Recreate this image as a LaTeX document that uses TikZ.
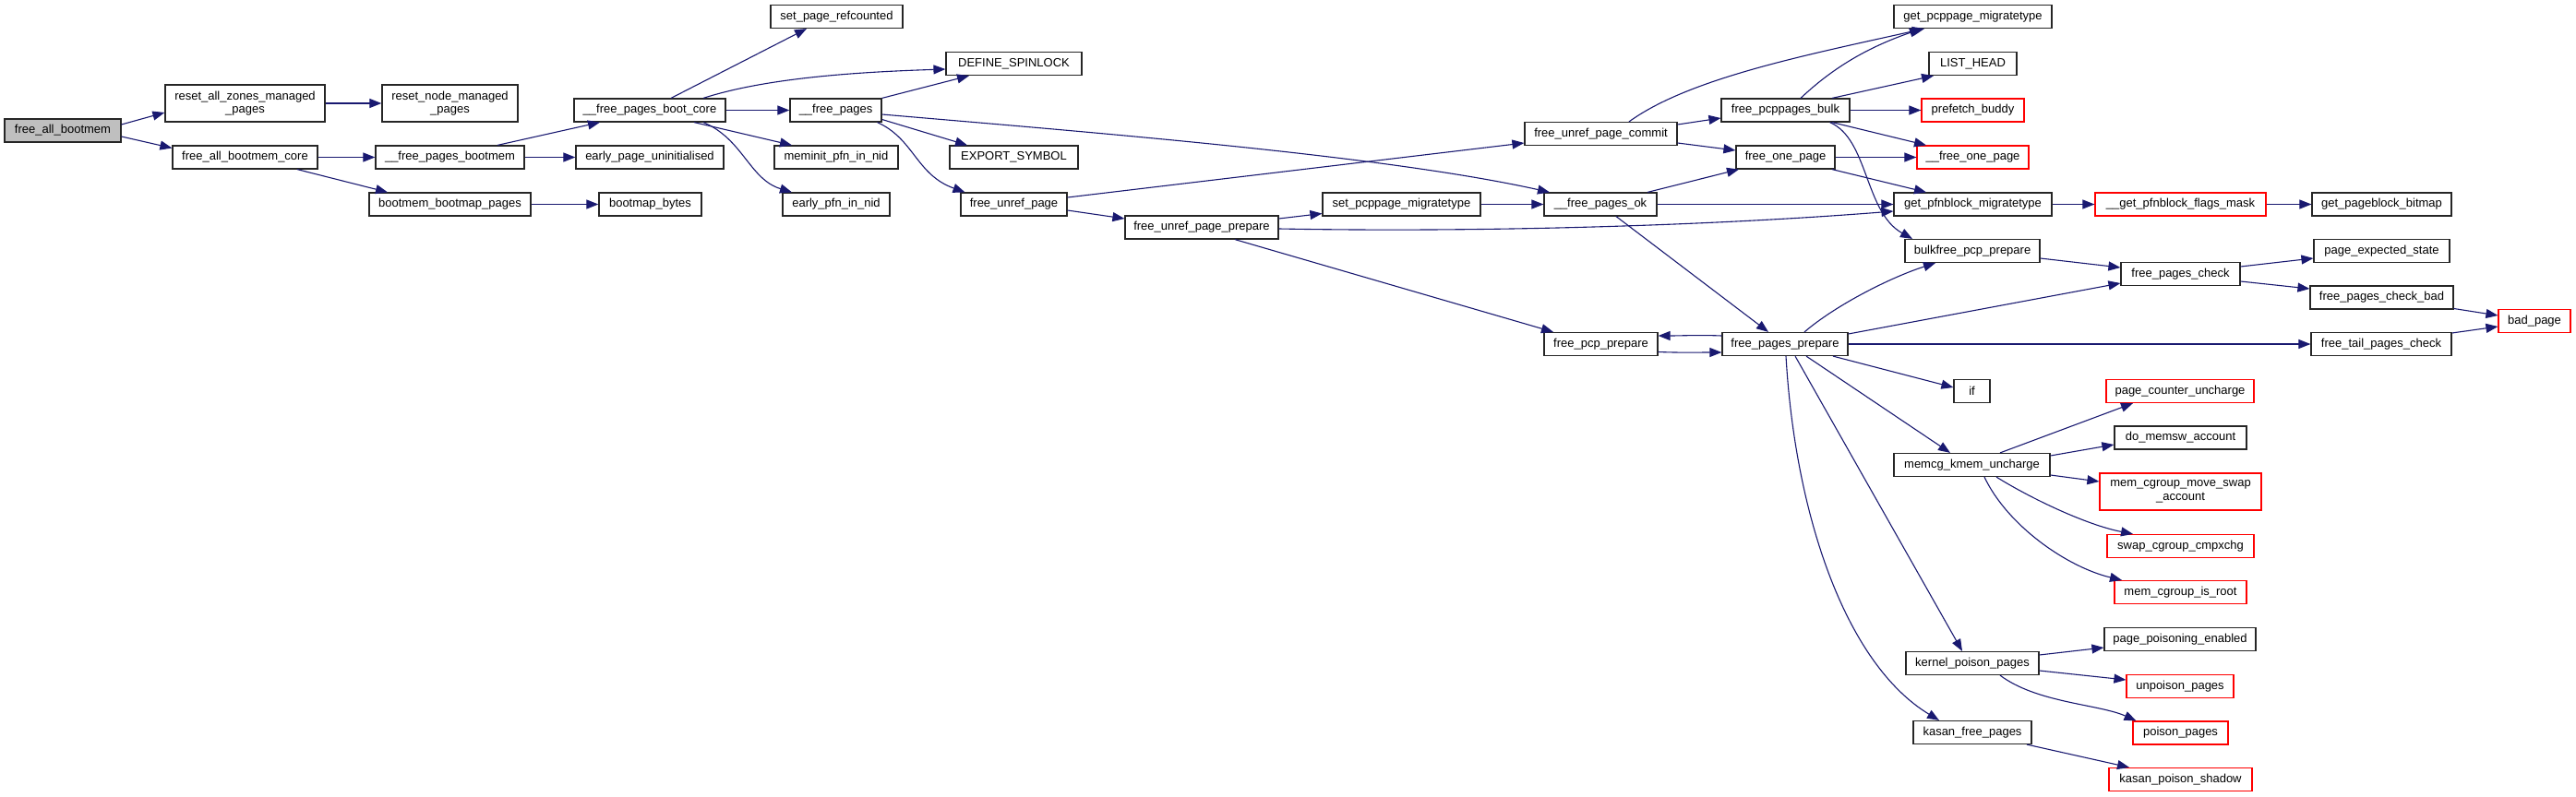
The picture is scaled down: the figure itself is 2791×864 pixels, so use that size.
\documentclass[tikz,border=0pt]{standalone}
\usepackage{fontspec}
\setmainfont{Liberation Sans}
\usetikzlibrary{arrows.meta,calc}
\definecolor{edgeblue}{HTML}{191970}
\definecolor{rootgray}{HTML}{BFBFBF}
\newcommand\nodefont{\fontsize{13}{14.5}\selectfont}
\tikzset{
  box/.style={draw=black!85, line width=1.2pt, fill=white, inner sep=0pt, minimum height=25pt, font=\nodefont, align=center},
  redbox/.style={box, draw=red},
  rootbox/.style={box, fill=rootgray},
  tall/.style={minimum height=40pt},
  edge/.style={draw=edgeblue, line width=1.1pt, -{Triangle[length=13pt,width=10pt]}}
}
\begin{document}
\begin{tikzpicture}[x=1pt,y=-1pt]
\useasboundingbox (0,0) rectangle (2791,864);
% nodes
\node[rootbox, minimum width=126pt] (n1) at (68,141.5) {free\_all\_bootmem};
\node[box, tall, minimum width=173pt] (n2) at (265.5,112) {reset\_all\_zones\_managed\\\_pages};
\node[box, tall, minimum width=147pt] (n3) at (487.5,112) {reset\_node\_managed\\\_pages};
\node[box, minimum width=157pt] (n4) at (265.5,170.5) {free\_all\_bootmem\_core};
\node[box, minimum width=161pt] (n5) at (487.5,170.5) {\_\_free\_pages\_bootmem};
\node[box, minimum width=160pt] (n6) at (704,170.5) {early\_page\_uninitialised};
\node[box, minimum width=175pt] (n7) at (487.5,221.5) {bootmem\_bootmap\_pages};
\node[box, minimum width=111pt] (n8) at (704.5,221.5) {bootmap\_bytes};
\node[box, minimum width=164pt] (n9) at (704,119.5) {\_\_free\_pages\_boot\_core};
\node[box, minimum width=143pt] (n10) at (906.5,18) {set\_page\_refcounted};
\node[box, minimum width=99pt] (n11) at (905.5,119.5) {\_\_free\_pages};
\node[box, minimum width=134pt] (n12) at (906,170.5) {meminit\_pfn\_in\_nid};
\node[box, minimum width=116pt] (n13) at (906,221.5) {early\_pfn\_in\_nid};
\node[box, minimum width=147pt] (n14) at (1098.5,69) {DEFINE\_SPINLOCK};
\node[box, minimum width=139pt] (n15) at (1098.5,170.5) {EXPORT\_SYMBOL};
\node[box, minimum width=115pt] (n16) at (1098.5,221.5) {free\_unref\_page};
\node[box, minimum width=166pt] (n17) at (1302,246.5) {free\_unref\_page\_prepare};
\node[box, minimum width=171pt] (n18) at (1518.5,221.5) {set\_pcppage\_migratetype};
\node[box, minimum width=122pt] (n19) at (1734,221.5) {\_\_free\_pages\_ok};
\node[box, minimum width=165pt] (n20) at (1734.5,145) {free\_unref\_page\_commit};
\node[box, minimum width=139pt] (n21) at (1934.5,119.5) {free\_pcppages\_bulk};
\node[box, minimum width=107pt] (n22) at (1934.5,170.5) {free\_one\_page};
\node[box, minimum width=171pt] (n23) at (2137.5,18) {get\_pcppage\_migratetype};
\node[box, minimum width=95pt] (n24) at (2137.5,69) {LIST\_HEAD};
\node[redbox, minimum width=111pt] (n25) at (2137.5,119.5) {prefetch\_buddy};
\node[redbox, minimum width=121pt] (n26) at (2137.5,170.5) {\_\_free\_one\_page};
\node[box, minimum width=171pt] (n27) at (2137.5,221.5) {get\_pfnblock\_migratetype};
\node[redbox, minimum width=185pt] (n28) at (2362.5,221.5) {\_\_get\_pfnblock\_flags\_mask};
\node[box, minimum width=151pt] (n29) at (2580.5,221.5) {get\_pageblock\_bitmap};
\node[box, minimum width=146pt] (n30) at (2137,272) {bulkfree\_pcp\_prepare};
\node[box, minimum width=147pt] (n31) at (2580.5,272) {page\_expected\_state};
\node[box, minimum width=129pt] (n32) at (2362.5,297) {free\_pages\_check};
\node[box, minimum width=155pt] (n33) at (2580.5,322.5) {free\_pages\_check\_bad};
\node[redbox, minimum width=78pt] (n34) at (2746,348) {bad\_page};
\node[box, minimum width=152pt] (n35) at (2580,373) {free\_tail\_pages\_check};
\node[box, minimum width=123pt] (n36) at (1734.5,373) {free\_pcp\_prepare};
\node[box, minimum width=136pt] (n37) at (1934,373) {free\_pages\_prepare};
\node[box, minimum width=39pt] (n38) at (2136.5,424) {if};
\node[redbox, minimum width=160pt] (n39) at (2362,424) {page\_counter\_uncharge};
\node[box, minimum width=143pt] (n40) at (2362.5,474.5) {do\_memsw\_account};
\node[box, minimum width=169pt] (n41) at (2136.5,504) {memcg\_kmem\_uncharge};
\node[redbox, tall, minimum width=175pt] (n42) at (2362.5,533) {mem\_cgroup\_move\_swap\\\_account};
\node[redbox, minimum width=159pt] (n43) at (2362.5,592) {swap\_cgroup\_cmpxchg};
\node[redbox, minimum width=143pt] (n44) at (2362.5,642) {mem\_cgroup\_is\_root};
\node[box, minimum width=164pt] (n45) at (2362,693) {page\_poisoning\_enabled};
\node[box, minimum width=144pt] (n46) at (2137,719) {kernel\_poison\_pages};
\node[redbox, minimum width=116pt] (n47) at (2362,744) {unpoison\_pages};
\node[redbox, minimum width=103pt] (n48) at (2362.5,794.5) {poison\_pages};
\node[box, minimum width=128pt] (n49) at (2137,794) {kasan\_free\_pages};
\node[redbox, minimum width=155pt] (n50) at (2362.5,845) {kasan\_poison\_shadow};
% edges
\draw[edge] ($(n1.east)+(0,-6.5)$) -- ($(n2.west)+(0,10)$);
\draw[edge] ($(n1.east)+(0,6.5)$) -- ($(n4.west)+(0,-10)$);
\draw[edge] (n2.east) -- (n3.west);
\draw[edge] (n4.east) -- (n5.west);
\draw[edge] ($(n4.south)+(56.5,0)$) -- ($(n7.north)+(-67.5,0)$);
\draw[edge] ($(n5.north)+(51.5,0)$) -- ($(n9.south)+(-54,0)$);
\draw[edge] (n5.east) -- (n6.west);
\draw[edge] (n7.east) -- (n8.west);
\draw[edge] ($(n9.north)+(23,0)$) -- ($(n10.south)+(-32.5,0)$);
\draw[edge] ($(n9.north)+(58,0)$) .. controls +(68,-22) and +(-95,3) .. ($(n14.west)+(0,6)$);
\draw[edge] (n9.east) -- (n11.west);
\draw[edge] ($(n9.south)+(48,0)$) -- ($(n12.north)+(-48,0)$);
\draw[edge] ($(n9.south)+(58,0)$) .. controls +(43,18) and +(-46,-14) .. ($(n13.north)+(-48,0)$);
\draw[edge] (n11.north east) -- ($(n14.south)+(-48.5,0)$);
\draw[edge] ($(n11.east)+(0,10)$) -- ($(n15.north)+(-50.5,0)$);
\draw[edge] ($(n11.south)+(45,0)$) .. controls +(40,18) and +(-53,-19) .. ($(n16.north)+(-53,0)$);
\draw[edge] ($(n11.east)+(0,4.5)$) .. controls +(245,21) and +(-175,-39) .. ($(n19.north)+(-55,0)$);
\draw[edge] ($(n16.east)+(0,-7.5)$) -- ($(n20.west)+(0,10)$);
\draw[edge] ($(n16.east)+(0,6.5)$) -- ($(n17.west)+(0,-9.5)$);
\draw[edge] ($(n17.east)+(0,-9.5)$) -- ($(n18.west)+(0,10)$);
\draw[edge] ($(n17.east)+(0,1.5)$) .. controls +(215,4) and +(-202,16) .. ($(n27.west)+(0,7.5)$);
\draw[edge] ($(n17.south)+(36,0)$) -- ($(n36.north)+(-51.5,0)$);
\draw[edge] (n18.east) -- (n19.west);
\draw[edge] ($(n19.north)+(51,0)$) -- ($(n22.south)+(-50.5,0)$);
\draw[edge] (n19.east) -- (n27.west);
\draw[edge] ($(n19.south)+(17,0)$) -- ($(n37.north)+(-18,0)$);
\draw[edge] ($(n20.north)+(30.5,0)$) .. controls +(65,-47) and +(-130,29) .. ($(n23.south)+(-52.5,0)$);
\draw[edge] ($(n20.east)+(0,-10)$) -- ($(n21.west)+(0,8.5)$);
\draw[edge] ($(n20.east)+(0,10)$) -- ($(n22.west)+(0,-7.5)$);
\draw[edge] ($(n21.north)+(16.5,0)$) .. controls +(39,-37) and +(-52,18) .. ($(n23.south)+(-55.5,0)$);
\draw[edge] ($(n21.north)+(50.5,0)$) -- ($(n24.south)+(-42.5,0)$);
\draw[edge] (n21.east) -- (n25.west);
\draw[edge] ($(n21.south)+(50.5,0)$) -- ($(n26.north)+(-50.5,0)$);
\draw[edge] ($(n21.south)+(48,0)$) .. controls +(42,18) and +(-52,-29) .. ($(n30.north)+(-65,0)$);
\draw[edge] (n22.east) -- (n26.west);
\draw[edge] ($(n22.south)+(50.5,0)$) -- ($(n27.north)+(-50.5,0)$);
\draw[edge] (n27.east) -- (n28.west);
\draw[edge] (n28.east) -- (n29.west);
\draw[edge] ($(n30.east)+(0,8)$) -- ($(n32.west)+(0,-7)$);
\draw[edge] ($(n32.east)+(0,-8)$) -- ($(n31.west)+(0,8)$);
\draw[edge] ($(n32.east)+(0,8)$) -- ($(n33.west)+(0,-9.5)$);
\draw[edge] ($(n33.east)+(0,12)$) -- ($(n34.west)+(0,-6)$);
\draw[edge] ($(n35.east)+(0,-12)$) -- ($(n34.west)+(0,6)$);
\draw[edge] ($(n36.east)+(0,8.5)$) .. controls +(25,1) and +(-25,0) .. ($(n37.west)+(0,9)$);
\draw[edge] ($(n37.west)+(0,-9)$) .. controls +(-25,-1) and +(25,0) .. ($(n36.east)+(0,-9)$);
\draw[edge] ($(n37.north)+(21,0)$) .. controls +(35,-30) and +(-47,15) .. ($(n30.south)+(-40,0)$);
\draw[edge] ($(n37.east)+(0,-11)$) -- ($(n32.west)+(0,10)$);
\draw[edge] (n37.east) -- (n35.west);
\draw[edge] ($(n37.south)+(52,0)$) -- ($(n38.west)+(0,-4)$);
\draw[edge] ($(n37.south)+(23,0)$) -- ($(n41.north)+(-23.5,0)$);
\draw[edge] ($(n37.south)+(11,0)$) -- ($(n46.north)+(-11,0)$);
\draw[edge] ($(n37.south)+(1,0)$) .. controls +(10,173) and +(-101,-61) .. ($(n49.north)+(-36,0)$);
\draw[edge] ($(n41.north)+(30.5,0)$) -- ($(n39.south)+(-51,0)$);
\draw[edge] ($(n41.east)+(0,-10)$) -- ($(n40.west)+(0,7.5)$);
\draw[edge] ($(n41.east)+(0,11)$) -- ($(n42.west)+(0,-11)$);
\draw[edge] ($(n41.south)+(26.5,0)$) .. controls +(37,23) and +(-51,-10) .. ($(n43.north)+(-51.5,0)$);
\draw[edge] ($(n41.south)+(13.5,0)$) .. controls +(25,53) and +(-59,-14) .. ($(n44.north)+(-63.5,0)$);
\draw[edge] ($(n46.east)+(0,-9)$) -- ($(n45.west)+(0,9)$);
\draw[edge] ($(n46.east)+(0,8)$) -- ($(n47.west)+(0,-7)$);
\draw[edge] ($(n46.south)+(30,0)$) .. controls +(40,30) and +(-40,-18) .. ($(n48.north)+(-48,0)$);
\draw[edge] ($(n49.south)+(59,0)$) -- ($(n50.north)+(-55.5,0)$);
\end{tikzpicture}
\end{document}
